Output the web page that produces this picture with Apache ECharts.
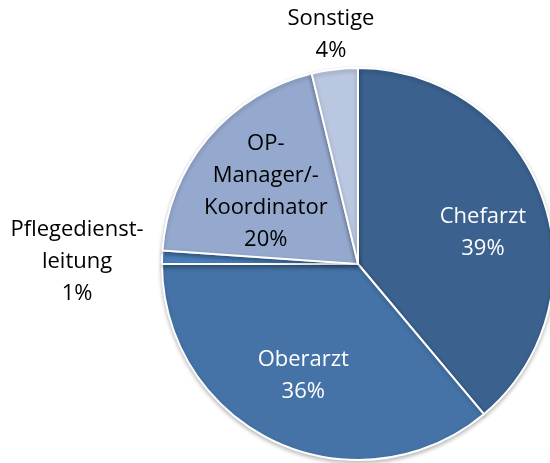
<!DOCTYPE html>
<html>
<head>
<meta charset="utf-8">
<script src="https://cdn.jsdelivr.net/npm/echarts@6/dist/echarts.min.js"></script>
<style>
html, body { margin: 0; padding: 0; background: #fff; }
#pie { width: 550px; height: 463px; }
</style>
</head>
<body>
<div id="pie"></div>
<script>
// Verteilung nach Funktion
var names = ['Chefarzt', 'Oberarzt', 'Pflegedienst-\nleitung', 'OP-\nManager/-\nKoordinator', 'Sonstige'];
var values = [38.9, 36.1, 1.1, 20.1, 3.8];
var colors = ['#3b618f', '#4573a7', '#4a7ebb', '#95a9cf', '#b9c7e0'];

// Beschriftungen: alle relativ zur Segmentmitte verschoben
var labelCfg = [
    { color: '#ffffff', offset: [30, 3] },
    { color: '#ffffff', offset: [-12, 20] },
    { color: '#000000', offset: [-180, 1] },
    { color: '#000000', offset: [-15, -7] },
    { color: '#000000', offset: [-15, -129] }
];

var pieChart = echarts.init(document.getElementById('pie'));
var pieOption = {
    animation: false,
    series: [{
        type: 'pie',
        center: [358, 264],
        radius: 196,
        startAngle: 90,
        clockwise: true,
        avoidLabelOverlap: false,
        itemStyle: {
            borderColor: '#ffffff',
            borderWidth: 2,
            shadowBlur: 4,
            shadowColor: 'rgba(0,0,0,0.25)',
            shadowOffsetY: 2
        },
        label: {
            position: 'inside',
            fontFamily: 'Open Sans',
            fontSize: 22,
            lineHeight: 32,
            align: 'center',
            formatter: function (p) {
                return p.name + '\n' + Math.round(p.value) + '%';
            }
        },
        labelLine: { show: false },
        emphasis: { disabled: true },
        data: names.map(function (n, i) {
            return {
                name: n,
                value: values[i],
                itemStyle: { color: colors[i] },
                label: labelCfg[i]
            };
        })
    }]
};
pieChart.setOption(pieOption);
</script>
</body>
</html>
